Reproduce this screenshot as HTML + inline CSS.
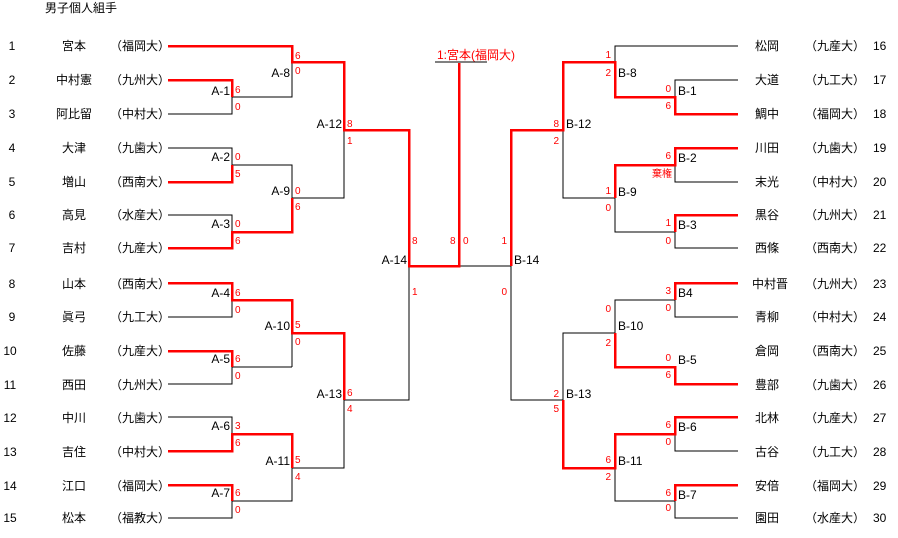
<!DOCTYPE html>
<html><head><meta charset="utf-8"><style>
html,body{margin:0;padding:0;background:#fff;}
svg{display:block;}
text{font-family:"Liberation Sans","Noto Sans CJK JP",sans-serif;}
.t{font-size:12px;fill:#000;}
.s{font-size:10px;fill:#f00;}
.l{font-size:12px;fill:#000;}
.k{stroke:#000;stroke-width:1;fill:none;}
.r{stroke:#f00;stroke-width:2.5;fill:none;}
</style></head><body>
<svg width="898" height="538" viewBox="0 0 898 538" shape-rendering="crispEdges">
<text class="t" x="45" y="12">男子個人組手</text>
<g class="t">
<text x="12" y="50" text-anchor="middle">1</text><text x="74" y="50" text-anchor="middle">宮本</text><text x="110" y="50">（福岡大）</text>
<text x="12" y="84" text-anchor="middle">2</text><text x="74" y="84" text-anchor="middle">中村憲</text><text x="110" y="84">（九州大）</text>
<text x="12" y="118" text-anchor="middle">3</text><text x="74" y="118" text-anchor="middle">阿比留</text><text x="110" y="118">（中村大）</text>
<text x="12" y="152" text-anchor="middle">4</text><text x="74" y="152" text-anchor="middle">大津</text><text x="110" y="152">（九歯大）</text>
<text x="12" y="186" text-anchor="middle">5</text><text x="74" y="186" text-anchor="middle">増山</text><text x="110" y="186">（西南大）</text>
<text x="12" y="219" text-anchor="middle">6</text><text x="74" y="219" text-anchor="middle">高見</text><text x="110" y="219">（水産大）</text>
<text x="12" y="252" text-anchor="middle">7</text><text x="74" y="252" text-anchor="middle">吉村</text><text x="110" y="252">（九産大）</text>
<text x="12" y="288" text-anchor="middle">8</text><text x="74" y="288" text-anchor="middle">山本</text><text x="110" y="288">（西南大）</text>
<text x="12" y="321" text-anchor="middle">9</text><text x="74" y="321" text-anchor="middle">眞弓</text><text x="110" y="321">（九工大）</text>
<text x="10" y="355" text-anchor="middle">10</text><text x="74" y="355" text-anchor="middle">佐藤</text><text x="110" y="355">（九産大）</text>
<text x="10" y="389" text-anchor="middle">11</text><text x="74" y="389" text-anchor="middle">西田</text><text x="110" y="389">（九州大）</text>
<text x="10" y="422" text-anchor="middle">12</text><text x="74" y="422" text-anchor="middle">中川</text><text x="110" y="422">（九歯大）</text>
<text x="10" y="456" text-anchor="middle">13</text><text x="74" y="456" text-anchor="middle">吉住</text><text x="110" y="456">（中村大）</text>
<text x="10" y="490" text-anchor="middle">14</text><text x="74" y="490" text-anchor="middle">江口</text><text x="110" y="490">（福岡大）</text>
<text x="10" y="522" text-anchor="middle">15</text><text x="74" y="522" text-anchor="middle">松本</text><text x="110" y="522">（福教大）</text>
</g>
<g class="t">
<text x="755" y="50">松岡</text><text x="805" y="50">（九産大）</text><text x="873" y="50">16</text>
<text x="755" y="84">大道</text><text x="805" y="84">（九工大）</text><text x="873" y="84">17</text>
<text x="755" y="118">鯛中</text><text x="805" y="118">（福岡大）</text><text x="873" y="118">18</text>
<text x="755" y="152">川田</text><text x="805" y="152">（九歯大）</text><text x="873" y="152">19</text>
<text x="755" y="186">末光</text><text x="805" y="186">（中村大）</text><text x="873" y="186">20</text>
<text x="755" y="219">黒谷</text><text x="805" y="219">（九州大）</text><text x="873" y="219">21</text>
<text x="755" y="252">西條</text><text x="805" y="252">（西南大）</text><text x="873" y="252">22</text>
<text x="752" y="288">中村晋</text><text x="805" y="288">（九州大）</text><text x="873" y="288">23</text>
<text x="755" y="321">青柳</text><text x="805" y="321">（中村大）</text><text x="873" y="321">24</text>
<text x="755" y="355">倉岡</text><text x="805" y="355">（西南大）</text><text x="873" y="355">25</text>
<text x="755" y="389">豊部</text><text x="805" y="389">（九歯大）</text><text x="873" y="389">26</text>
<text x="755" y="422">北林</text><text x="805" y="422">（九産大）</text><text x="873" y="422">27</text>
<text x="755" y="456">古谷</text><text x="805" y="456">（九工大）</text><text x="873" y="456">28</text>
<text x="755" y="490">安倍</text><text x="805" y="490">（福岡大）</text><text x="873" y="490">29</text>
<text x="755" y="522">園田</text><text x="805" y="522">（水産大）</text><text x="873" y="522">30</text>
</g>
<g class="k">
<path d="M292 62V97H232 M168 114H232V97"/>
<path d="M168 148H232V165H292V198H344V130 M292 165V198"/>
<path d="M168 215H232V232"/>
<path d="M232 97V114"/>
<path d="M168 317H232V300 M232 367H292 M168 384H232V367 M292 333V367"/>
<path d="M168 417H232V434 M292 468H344V400 M232 501H292V468 M168 518H232V501"/>
<path d="M344 400H409V266"/>
<path d="M435 62H487"/>
<path d="M459 266H511"/>
</g>
<g class="r">
<path d="M168 46H292V62H344V130H409V266H459V63"/>
<path d="M168 80H232V97"/>
<path d="M168 182H232V165"/>
<path d="M168 248H232V232H292V198"/>
<path d="M168 283H232V300H292V333H344V400"/>
<path d="M168 351H232V367"/>
<path d="M168 451H232V434H292V468"/>
<path d="M168 485H232V501"/>
</g>
<g class="k">
<path d="M738 46H615V62"/>
<path d="M738 80H675V97"/>
<path d="M738 182H675V165 M615 198H563V130"/>
<path d="M738 248H675V232H615V198"/>
<path d="M511 266V400H563V333H615V300H675V283 M738 317H675V300 M615 333V367"/>
<path d="M738 451H675V434 M615 468V501H675V485 M738 518H675V501"/>
</g>
<g class="r">
<path d="M511 266V130H563V62H615V97H675V114H738"/>
<path d="M738 148H675V165H615V198"/>
<path d="M738 215H675V232"/>
<path d="M738 283H675V300"/>
<path d="M738 384H675V367H615V333"/>
<path d="M563 400V468H615V434H675V417H738"/>
<path d="M738 485H675V501"/>
</g>
<text x="437" y="59" style="font-size:12px;fill:#f00">1:宮本(福岡大)</text>
<g class="l" text-anchor="end">
<text x="230" y="95">A-1</text><text x="290" y="77">A-8</text><text x="342" y="128">A-12</text>
<text x="230" y="161">A-2</text><text x="290" y="195">A-9</text><text x="230" y="228">A-3</text>
<text x="407" y="264">A-14</text>
<text x="230" y="297">A-4</text><text x="290" y="330">A-10</text><text x="230" y="363">A-5</text>
<text x="342" y="398">A-13</text><text x="230" y="430">A-6</text><text x="290" y="465">A-11</text><text x="230" y="497">A-7</text>
</g>
<g class="l">
<text x="618" y="77">B-8</text><text x="678" y="95">B-1</text><text x="566" y="128">B-12</text>
<text x="678" y="162">B-2</text><text x="618" y="196">B-9</text><text x="678" y="229">B-3</text>
<text x="514" y="264">B-14</text>
<text x="678" y="297">B4</text><text x="618" y="330">B-10</text><text x="678" y="364">B-5</text>
<text x="566" y="398">B-13</text><text x="678" y="431">B-6</text><text x="618" y="465">B-11</text><text x="678" y="499">B-7</text>
</g>
<g class="s">
<text x="235" y="93">6</text><text x="235" y="110">0</text>
<text x="295" y="59">6</text><text x="295" y="74">0</text>
<text x="347" y="127">8</text><text x="347" y="144">1</text>
<text x="235" y="160">0</text><text x="235" y="177">5</text>
<text x="295" y="194">0</text><text x="295" y="210">6</text>
<text x="235" y="227">0</text><text x="235" y="244">6</text>
<text x="412" y="244">8</text><text x="412" y="295">1</text>
<text x="450" y="244">8</text><text x="463" y="244">0</text>
<text x="235" y="296">6</text><text x="235" y="313">0</text>
<text x="295" y="328">5</text><text x="295" y="345">0</text>
<text x="235" y="362">6</text><text x="235" y="379">0</text>
<text x="347" y="396">6</text><text x="347" y="412">4</text>
<text x="235" y="429">3</text><text x="235" y="446">6</text>
<text x="295" y="463">5</text><text x="295" y="480">4</text>
<text x="235" y="496">6</text><text x="235" y="513">0</text>
</g>
<g class="s" text-anchor="end">
<text x="611" y="58">1</text><text x="611" y="76">2</text>
<text x="671" y="92">0</text><text x="671" y="109">6</text>
<text x="559" y="127">8</text><text x="559" y="144">2</text>
<text x="671" y="159">6</text><text x="672" y="177">棄権</text>
<text x="611" y="194">1</text><text x="611" y="211">0</text>
<text x="671" y="226">1</text><text x="671" y="244">0</text>
<text x="507" y="244">1</text><text x="507" y="295">0</text>
<text x="671" y="294">3</text><text x="671" y="311">0</text>
<text x="611" y="312">0</text><text x="611" y="346">2</text>
<text x="671" y="361">0</text><text x="671" y="378">6</text>
<text x="559" y="397">2</text><text x="559" y="412">5</text>
<text x="671" y="428">6</text><text x="671" y="445">0</text>
<text x="611" y="463">6</text><text x="611" y="480">2</text>
<text x="671" y="496">6</text><text x="671" y="511">0</text>
</g>
</svg>
</body></html>
